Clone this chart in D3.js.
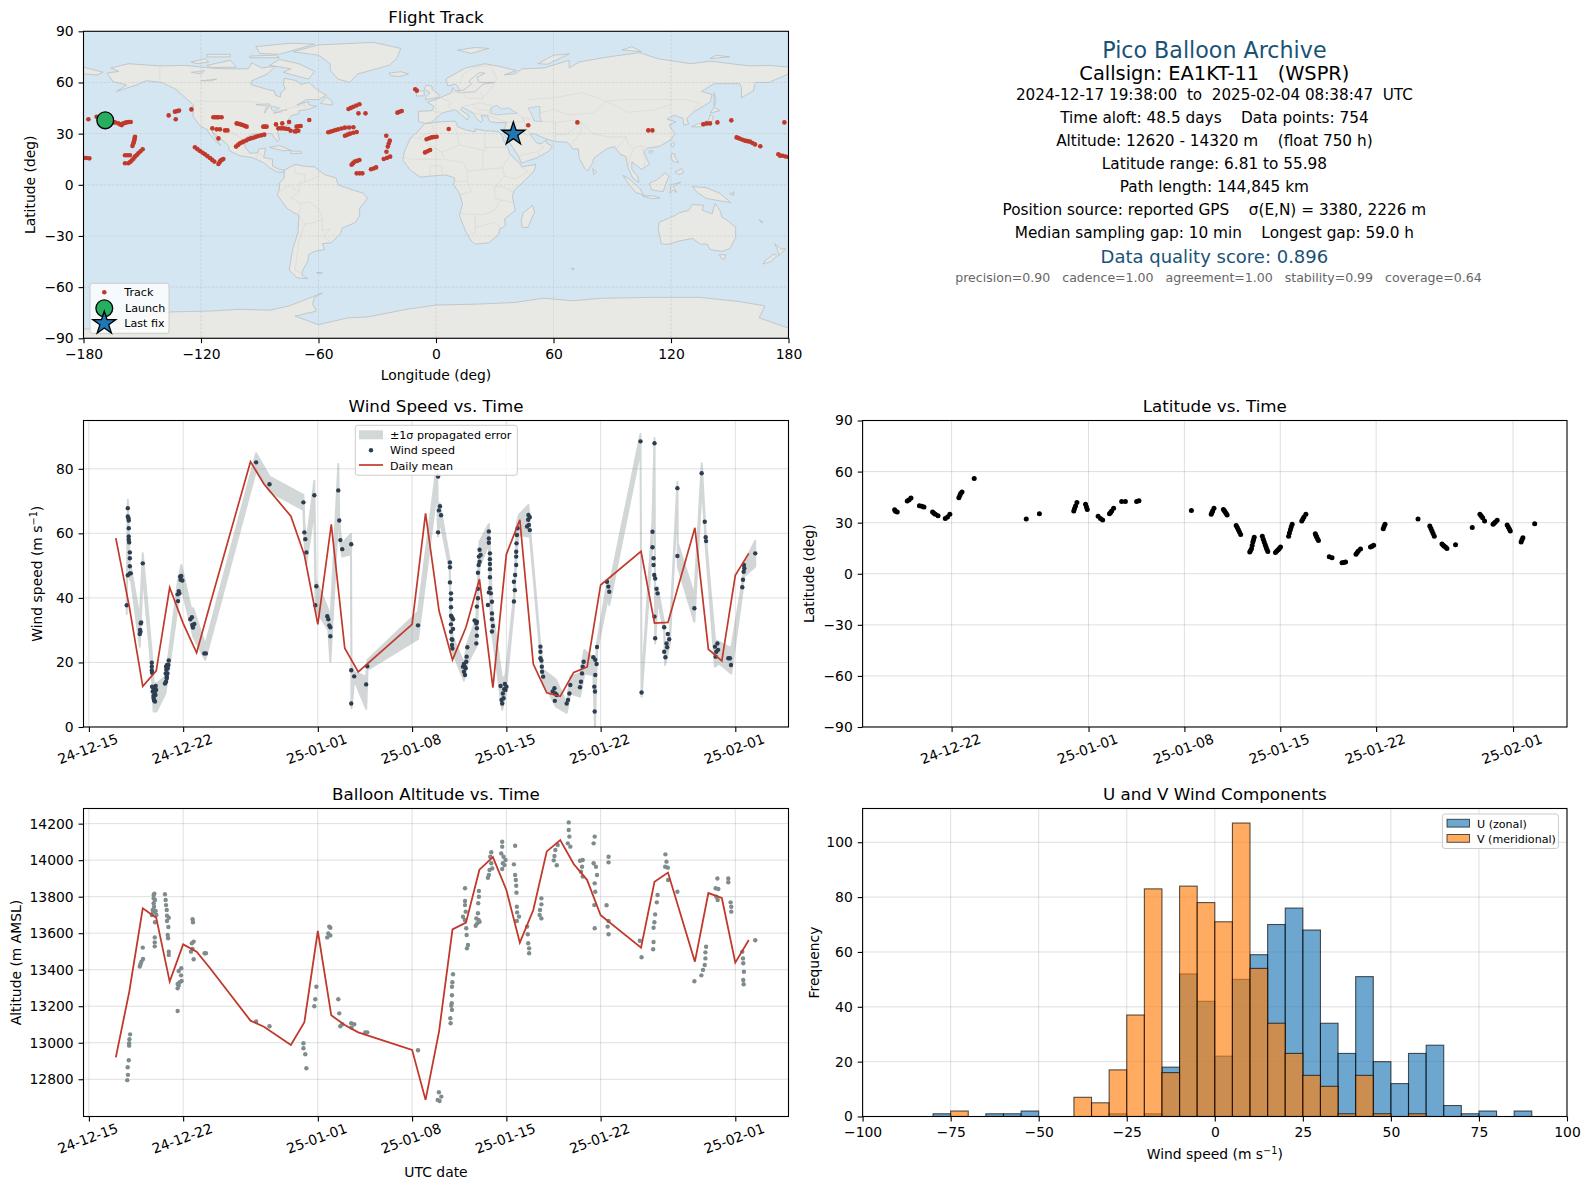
<!DOCTYPE html>
<html>
<head>
<meta charset="utf-8">
<script src="https://cdn.jsdelivr.net/npm/d3@7"></script>
<style>
  html, body { margin: 0; padding: 0; background: #fff; }
  svg { display: block; }
  text { font-family: "DejaVu Sans", sans-serif; fill: #000; }
</style>
</head>
<body>
<div id="chart-area"></div>
<script>
// all times are days since 2024-12-15 00:00 UTC

// ---- track, [lon, lat] ----
const trackPoints = [[-177.5,38.4],[-173.3,39.9],[-170.5,37.5],[-166.5,37],[-165,36.6],[-163.9,36.6],[-162.2,36],[-161.2,35.4],[-160.5,35],[-159.6,36],[-158.8,36.4],[-158,36.6],[-157,36.8],[-155.9,36.8],
  [-153.7,28.2],[-153.9,27.2],[-154,26.3],[-154.3,25.2],[-154.5,24.3],[-155,22.8],[-158.8,17.3],[-157.5,17.3],[-156.3,17.3],
  [-158.8,12.6],[-157.1,12.6],[-156.2,13.4],[-155.4,14.2],[-154.5,15.3],[-153.7,16.5],[-152.8,17.5],[-152,18.5],[-150.9,19.7],[-149.8,20.8],
  [-180,15.9],[-178.6,15.7],[-177,15.5],[-136.5,40.7],[-133.3,42.9],[-132.2,43.2],[-131.2,43.5],[-132.9,38.4],[-124.9,44.2],
  [-113.7,39.6],[-112.6,39.6],[-111.8,39.6],[-111,39.6],[-109.5,39.6],[-114.2,33.1],[-112,32.5],[-110.3,32.5],[-107.7,31.9],[-106.5,31.9],[-111.1,27.2],
  [-123.1,22],[-121.8,20.9],[-120.5,19.8],[-119.2,18.8],[-118,17.9],[-116.7,16.8],[-115.4,15.7],[-114.3,14.6],[-113.2,13.6],[-111.1,12.2],[-110.5,13.2],[-110,14.2],[-109.3,14.7],[-108.6,15.1],
  [-101.8,36],[-100.9,35.8],[-100.1,35.5],[-99.2,35.2],[-98.4,34.9],[-97.5,34.5],[-96.7,34.1],[-88.2,34.1],[-87.3,34.1],[-86.5,34.1],
  [-102.1,22.4],[-101.1,23.4],[-100.1,24.3],[-99.2,24.8],[-98.4,25.3],[-97,26],[-95.8,26.7],[-94.6,27.2],[-93.3,27.6],[-92,28.1],[-90.7,28.6],[-89.2,29],[-87.7,29.4],
  [-81.7,35.4],[-78.5,36],[-75,36.8],[-80.5,33.1],[-79.2,33.1],[-78,33.1],[-76.7,32.9],[-75.4,32.7],[-74.2,31.7],[-72,31.3],[-71.2,31.5],[-70.3,31.7],[-71.2,34.1],[-70.2,34.3],[-69.1,34.5],[-64.7,38],
  [-55,30.8],[-53.7,31.2],[-52.4,31.7],[-51.2,32.1],[-49.9,32.5],[-48.2,33],[-46.5,33.5],[-44.4,33.6],[-42.2,33.7],[-46.5,28.8],[-45.2,29.4],[-43.9,30],[-42.2,30.5],[-40.5,31],
  [-44.7,44.4],[-43.5,45.1],[-42.2,45.8],[-40.7,46.5],[-39.1,47.2],[-39.6,41.9],[-36,41.9],[-19.7,42.3],[-18.6,42.8],[-17.5,43.3],[-10.6,56],[-9.8,55.2],
  [-25.4,28.8],[-23.6,25.9],[-24.1,24.2],[-24.6,22.4],[-25.3,19.4],[-26.7,15.1],[-25,15.8],[-23.4,16.5],
  [-43.1,11.8],[-42.3,12.7],[-41.5,13.6],[-40.3,14],[-39.1,14.5],[-40.5,6.7],[-39,6.7],[-37.6,6.7],[-33.2,9.1],[-31.9,9.6],[-30.6,10.2],
  [-5.6,19],[-4.3,19.7],[-3,20.4],[-4.8,26.7],[-3.5,27.3],[-2.2,27.8],[-1,28],[0.3,28.2],[6.5,32.7],[47.1,34.9],
  [72.2,36.6],[108.4,31.9],[110.5,31.9],[136.5,35.5],[138.2,36],[139.9,36],[143.7,36.6],[150.8,37.8],
  [153.5,27.8],[154.4,27.4],[155.2,27],[156.5,26.4],[157.8,25.9],[159,25.6],[160.3,25.3],[161.6,24.5],[162.9,23.7],[165.6,22.6],
  [174.8,17.9],[175.7,17.1],[177,17],[178.5,16.6],[180,16.3],[177.9,36.6]]
const launchPoint = [-168.9, 37.8]
const lastFix = [39.5, 29.8]

// ---- wind speed panel: [day, m/s] ----
const windPoints = [[2.81,37.7],[2.89,67.8],[2.89,65.2],[2.94,64.7],[2.96,64],[2.96,61.6],[2.96,59],[2.96,58],[2.99,57.2],[3.04,54.1],[3.04,52.3],[3.04,49.8],[3.04,47.6],[2.89,47],[3.11,47.6],
  [3.78,28.8],[3.8,30.1],[3.83,29.5],[3.85,32.1],[3.88,32.4],[4,50.7],
  [4.67,19.9],[4.67,18.7],[4.67,17.5],[4.69,16.8],[4.69,12.5],[4.74,11],[4.79,9.6],[4.84,8.2],[4.91,7.9],[4.96,12.7],[4.99,11.5],[4.94,9.9],[4.86,12],[4.81,11.3],[4.77,12.3],[4.89,10.6],[4.81,8.9],
  [5.65,13.5],[5.73,14],[5.78,15.6],[5.7,16.6],[5.75,17.7],[5.73,18.7],[5.8,19.2],[5.85,18.2],[5.9,19.2],[5.93,20.6],[5.83,16.6],[5.78,15.1],
  [6.62,39],[6.59,41.1],[6.67,42.1],[6.72,41.4],[6.77,46.6],[6.86,46.8],[6.81,45.6],[6.94,45.4],
  [7.53,33.4],[7.65,34],[7.68,31.6],[7.83,31.9],[7.73,30.8],[8.57,22.8],[8.69,22.8],
  [12.42,82],[13.41,75.2],[15.93,69.6],[16,60.3],[16.07,58.2],[16.15,54.1],[16.74,71.8],[16.81,37.7],[16.89,43.6],
  [17.7,34.3],[17.78,33.4],[17.85,31.5],[17.93,30.9],[17.93,28.1],[18.52,73.3],[18.59,64],[18.67,57.9],[18.81,55.1],[19.48,56.6],[19.48,17.6],[19.48,7.3],[19.7,15.7],[20.67,18.8],[20.59,13.2],[24.44,31.5],
  [25.93,77.6],[25.93,60.3],[25.99,67.1],[26.07,68.4],[26.15,65.6],
  [26.81,51],[26.81,49.5],[26.81,44.8],[26.89,41.4],[26.89,39.6],[26.89,37.1],[26.89,34.5],[26.89,31.8],[26.96,34],[27.04,33.4],[27.04,30.4],[26.89,29.5],[26.94,27.2],[26.99,27],[26.96,25.4],[26.99,24.3],
  [27.78,18.7],[27.85,17.1],[27.93,16.1],[27.98,18.2],[28.02,20.2],[28.05,21.8],[28.1,24.7],[27.91,18.7],[27.85,19.5],
  [28.64,33],[28.77,32.1],[28.81,32.6],[28.81,30.6],[28.81,28.3],[28.77,25.9],[28.89,42.8],[28.81,37.3],[28.89,39.9],
  [28.89,47.8],[28.94,50.2],[28.96,52.8],[29.01,54.9],[29.09,53.3],[29.01,51.2],
  [29.7,60.6],[29.7,58.4],[29.7,57.1],[29.78,53.8],[29.78,52],[29.78,50.5],[29.78,48.9],[29.78,46.4],[29.78,43],[29.63,37.8],[29.7,41.7],[29.85,41.4],[29.93,38.8],[29.93,35.2],[29.93,33.4],[30,31.3],[29.93,29.6],
  [30.57,12.7],[30.74,10.4],[30.69,7.3],[30.79,8.9],[30.89,13.3],[31.01,12.5],[30.84,11.7],[30.94,11.5],[30.64,8.4],
  [31.56,38.9],[31.63,42.4],[31.56,45],[31.65,47.1],[31.73,50.2],[31.73,52.8],[31.73,54.3],[31.75,56.9],[31.78,59.5],[31.83,61.6],
  [32.54,62.1],[32.64,65.7],[32.62,64.2],[32.74,65],[32.67,62.6],[32.74,61],
  [33.53,24.9],[33.53,23.3],[33.6,20.6],[33.63,18.7],[33.65,17.1],[33.73,15.6],[33.53,21.3],
  [34.57,12],[34.64,10.4],[34.6,8.1],[34.74,9.9],[34.44,11],[35.48,7.3],[35.58,8.4],[35.68,10.4],[35.75,13],
  [36.47,12.3],[36.54,14],[36.62,16.6],[36.74,20.2],[36.67,18.7],[37.46,21.6],[37.6,20.8],[37.7,19.5],[37.6,16.1],[37.53,12.5],[37.58,11],[37.56,4.8],[37.73,24.8],
  [38.47,45],[38.57,43.5],[38.64,41.9],[40.96,88.5],[41.04,10.7],[41.85,60.5],[41.85,55.7],[41.93,52.3],[41.93,50.2],[41.98,47.1],[42.05,46],[42,87.9],[42,34.2],[42.05,27.5],[42.15,42.8],[42.23,41.4],
  [42.72,30.9],[42.72,23.3],[42.81,21.6],[42.89,25.9],[42.99,28.8],[43.09,27.2],[42.94,24.7],[43.7,74],[43.7,53],[44.96,36.8],[45.5,78.6],[45.73,63.6],[45.8,58.8],[45.83,57.6],
  [46.49,24.9],[46.59,23.3],[46.67,25.9],[46.54,21.8],[46.72,23.9],[47.48,21.3],[47.6,21.3],[47.68,19.2],[48.52,43.3],[48.57,45.6],[48.64,50.2],[48.62,48.1],[48.67,49.2],[49.48,53.8]]

const bandDays  = [2.81,2.89,3.04,3.11,3.78,4,4.67,4.81,5.01,5.68,5.95,6.59,6.86,7.58,7.75,8.64,12.42,13.41,15.93,16,16.15,16.74,16.84,17.78,17.93,18.52,18.59,18.67,18.81,19.46,19.5,19.7,20.59,20.69,24.44,25.85,25.93,26.05,26.79,26.86,27.01,27.85,28.1,28.77,29.01,29.7,29.8,29.95,30.69,30.94,31.56,31.78,31.93,32.64,32.74,33.51,33.73,34.57,34.69,35.48,35.75,36.47,36.79,37.46,37.58,37.73,38.52,38.64,40.96,41.04,41.85,42,42.05,42.23,42.72,42.79,43.14,43.7,43.73,44.96,45.51,45.73,45.81,46.49,46.79,47.7,48.52,48.64,49.48]
const bandUpper = [40.4,70.4,50.2,49.7,33.7,53.8,22.8,13.5,13.5,15.6,23.3,44.5,50.2,36.8,36.8,25.4,84.8,77.6,71.9,63.1,56.9,76.3,45.6,36.3,32.1,81.5,65.2,60,56.9,59.8,19.2,17.1,15.6,20.8,35.7,81.7,62.1,69.3,51.8,36.3,28,19.7,25.9,33.7,57.4,62.9,53.8,36.3,14.6,16.1,40.4,63.1,65.7,68.8,62.6,25.9,17.7,15.1,14.6,7.3,15.6,16.6,23.9,21.3,15.6,25.9,45.6,43.5,90.8,12.5,64.2,89.5,29,43.5,32.1,22.3,29,76,56.9,40.9,81.7,64.7,59,27,26.4,24.4,45,50.7,57.7]
const bandLower = [35,65.2,45.6,46.1,24.9,47.6,16.6,4.8,4.8,10.4,17.7,37.3,43.5,31.1,28,20.8,79.6,72.9,67.3,58,50.7,67.3,36.3,30.1,20.2,65.2,62.1,56.9,52.8,53.5,5.8,14.6,5.6,17.7,27.3,73.5,59,64.2,48.7,31.1,23.3,14.4,19.7,24.9,49.7,56.9,37.3,29,5.3,10.4,36.8,54.9,59.5,59,59.5,22.8,14,7.3,6.3,4.4,10.4,9.4,16.6,16.1,0.1,23.3,39.9,37.8,85.8,9.4,56.9,85.8,25.9,39.4,29.5,19.2,25.9,71.4,49.7,32.6,75,62.1,55.4,18.7,19.7,16.6,41.4,46.6,49.7]

const meanDays = [2,3,4,5,6,7,8,9,12,13,15,16,17,18,19,20,24,25,26,27,28,29,30,31,32,33,34,35,36,37,38,41,42,43,45,46,47,48,49]
const meanWind = [58.5,37.3,12.6,17.4,43.2,32.1,23,38,82.2,75.3,65.3,53.3,31.8,62.8,24.4,17.1,31.8,66.2,36,20.8,30.9,45.8,12.2,53.5,64.2,19.5,10.6,9.5,16.9,18.6,44,54.4,32.2,32.4,61.7,24.1,20.5,47,53.8]
const meanAlt  = [12920,13280,13736,13685,13335,13539,13499,13408,13121,13088,12988,13112,13612,13150,13097,13057,12961,12687,13061,13621,13658,13948,14017,13837,13548,13727,14048,14110,13979,13891,13698,13521,13882,13932,13444,13820,13793,13439,13563]

// ---- latitude panel: [day, deg] ----
const latPoints = [[2.84,37.6],[2.9,36.7],[3.03,36.3],[3.76,42.7],[3.9,43.5],[4.03,44.5],[4.65,40],[4.82,39.6],[4.98,39.2],[5.61,36.3],[5.71,35.6],[5.81,34.9],[6.01,34.1],[6.54,32.4],[6.7,33.3],[6.87,34.9],
  [7.53,44.7],[7.6,46],[7.66,47.1],[7.76,48],[8.65,55.9],[12.45,32.2],[13.41,35.3],
  [15.92,36.9],[15.98,38.3],[16.05,39.8],[16.15,41.8],[16.78,40.8],[16.85,39.2],[16.91,37.8],[17.7,33.7],[17.87,32.4],[18.03,31.6],[18.53,35.3],[18.61,36],[18.69,36.9],[18.83,38.4],[19.42,42.4],[19.69,42.4],[20.51,42.4],[20.68,42.9],[24.51,37.1],
  [25.96,34.9],[26.01,35.9],[26.06,36.9],[26.16,38.4],[26.85,37.8],[26.92,37],[26.98,36.3],[27.05,35.4],[27.12,34.5],[27.78,28.4],[27.86,27.1],[27.94,25.9],[28.02,24.5],[28.11,23.1],
  [28.77,12.7],[28.83,13.7],[28.9,14.7],[28.95,16.6],[29,18.6],[29.05,20],[29.1,21.4],[29.69,22],[29.76,20.3],[29.83,18.6],[29.9,17.1],[29.96,15.7],[30.02,14.4],[30.09,13.1],[30.65,12.5],[30.75,13.3],[30.85,14.1],[30.93,14.9],[31.02,15.7],
  [31.61,22],[31.67,24],[31.74,25.9],[31.8,27.4],[31.87,29],[32.57,31],[32.65,32.1],[32.73,33.3],[32.87,34.9],[33.56,23.5],[33.61,22.5],[33.66,21.6],[33.72,20.6],[33.79,19.6],
  [34.58,10],[34.78,9.4],[35.51,6.5],[35.64,6.6],[35.77,6.9],[36.53,11.4],[36.61,12.3],[36.7,13.3],[36.86,14.5],[37.59,15.7],[37.7,16.2],[37.82,16.7],[38.52,26.5],[38.58,27.8],[38.65,29],[41.06,32.2],
  [41.92,28],[42,26.6],[42.08,25.1],[42.16,23.6],[42.25,22],[42.81,17.5],[42.9,16.8],[42.98,16.1],[43.08,15.5],[43.17,14.9],[43.8,17.1],[45.02,27.1],[45.58,34.9],[45.68,33.9],[45.78,32.9],[45.92,31],
  [46.54,29],[46.62,29.7],[46.71,30.4],[46.84,31.4],[47.57,28.6],[47.65,27.5],[47.73,26.3],[47.8,25.1],[48.59,18.6],[48.65,19.9],[48.72,21.2],[49.58,29.4]]

// ---- altitude panel: [day, m] ----
const altPoints = [[2.85,12795],[2.9,12824],[2.88,12866],[2.96,12904],[2.99,12984],[2.99,12997],[3.01,13019],[3.06,13046],
  [3.78,13417],[3.83,13430],[3.9,13444],[4.02,13459],[4,13521],
  [4.67,13700],[4.74,13727],[4.81,13809],[4.81,13791],[4.81,13764],[4.86,13817],[4.91,13782],[4.96,13722],[5.01,13700],[4.91,13660],[4.89,13577],[4.89,13550],[4.89,13528],[4.84,13745],[4.78,13715],
  [5.65,13813],[5.7,13782],[5.73,13754],[5.78,13727],[5.8,13696],[5.93,13685],[5.8,13667],[5.9,13634],[5.85,13590],[5.88,13572],[5.93,13499],[5.93,13481],
  [6.86,13408],[6.67,13393],[6.84,13369],[6.89,13338],[6.74,13331],[6.59,13322],[6.67,13313],[6.59,13298],[6.59,13174],
  [7.7,13676],[7.73,13660],[7.78,13554],[7.65,13545],[7.58,13499],[7.7,13514],[7.78,13457],[8.59,13490],[8.69,13490],
  [12.42,13116],[13.41,13090],[15.93,12997],[15.93,12970],[16.07,12937],[16.15,12860],[16.74,13200],[16.81,13238],[16.89,13307],
  [17.7,13577],[17.78,13599],[17.93,13588],[17.85,13636],[17.93,13630],[18.52,13238],[18.59,13161],[18.67,13090],[18.81,13101],[19.48,13107],[19.7,13101],[19.5,13083],[20.52,13057],[20.67,13057],[24.44,12959],
  [25.99,12729],[26.17,12705],[25.9,12687],[26.04,12681],
  [27.04,13375],[26.99,13331],[26.96,13307],[26.96,13260],[26.94,13216],[26.96,13180],[26.84,13134],[26.86,13107],[26.91,13203],
  [27.93,13846],[27.93,13776],[27.93,13754],[27.78,13690],[27.98,13718],[27.91,13672],[28.02,13627],[28.05,13590],[28.15,13535],[28.07,13517],
  [28.96,13831],[28.96,13800],[28.91,13764],[28.89,13709],[28.94,13672],[28.84,13654],[28.72,13641],[29.01,13663],[28.77,13681],
  [29.88,14043],[29.8,14019],[29.88,13983],[29.75,13946],[29.63,13904],[29.95,13955],[29.7,13919],
  [30.69,14101],[30.69,14074],[30.62,14037],[30.79,14019],[30.94,14001],[30.74,13983],[30.86,13973],[30.69,13952],
  [31.65,14079],[31.56,13977],[31.65,13919],[31.7,13891],[31.73,13860],[31.75,13822],[31.78,13745],[31.8,13714],[31.94,13691],[31.78,13667],
  [32.54,13636],[32.59,13594],[32.62,13545],[32.69,13517],[32.69,13490],[33.6,13791],[33.6,13758],[33.5,13727],[33.47,13700],[33.6,13681],
  [34.81,14083],[34.64,14056],[34.57,14023],[34.52,13999],[34.74,13972],[35.63,14207],[35.63,14165],[35.68,14129],[35.56,14092],[35.75,14074],
  [36.47,13997],[36.67,14001],[36.62,13964],[36.54,13937],[36.67,13910],[37.56,14129],[37.48,14092],[37.48,13983],[37.65,13964],[37.73,13919],[37.56,13873],[37.6,13827],[37.53,13754],[37.56,13627],
  [38.59,14019],[38.59,13988],[38.44,13753],[38.59,13667],[38.52,13636],[38.59,13594],[40.91,13559],[41.04,13468],[41.93,13552],[41.9,13512],[41.99,13660],[41.93,13630],[42.05,13703],[42.17,13769],[42.23,13809],
  [42.81,14032],[42.89,13992],[42.79,13964],[42.99,13959],[43.01,13891],[43.7,13827],[44.96,13337],[45.48,13369],[45.6,13399],[45.73,13426],[45.78,13462],[45.78,13495],[45.83,13526],
  [46.67,13900],[46.54,13846],[46.74,13842],[46.59,13800],[46.69,13782],[47.48,13900],[47.48,13879],[47.65,13769],[47.7,13745],[47.7,13718],
  [48.52,13499],[48.57,13462],[48.59,13435],[48.64,13389],[48.59,13344],[48.62,13320],[49.48,13561]]

// ---- histogram ----
const binStarts = [-80,-75,-70,-65,-60,-55,-50,-45,-40,-35,-30,-25,-20,-15,-10,-5,0,5,10,15,20,25,30,35,40,45,50,55,60,65,70,75,80,85]
const uCounts =   [1,0,0,1,1,2,0,0,0,0,1,0,1,18,52,42,22,50,59,70,76,68,34,23,51,20,12,23,26,4,1,2,0,2]
const vCounts =   [0,2,0,0,0,0,0,0,7,5,17,37,83,16,84,78,71,107,54,34,23,15,11,1,15,1,0,1,0,0,0,0,0,0]

// ---- tick labels ----
const dateTicks = ["2024-12-15","2024-12-22","2025-01-01","2025-01-08","2025-01-15","2025-01-22","2025-02-01"]
const lonTicks = [-180,-120,-60,0,60,120,180]
const latTicks = [-90,-60,-30,0,30,60,90]
const windTicks = [0,20,40,60,80]
const altTicks = [12800,13000,13200,13400,13600,13800,14000,14200]
const histXTicks = [-100,-75,-50,-25,0,25,50,75,100]
const histYTicks = [0,20,40,60,80,100]

// ---- summary text ----
const summaryLines = [
  ["Pico Balloon Archive", 58.3, 22.2, "#1a5276", 1214.4],
  ["Callsign: EA1KT-11   (WSPR)", 80, 19.4, "#000", 1214.4],
  ["2024-12-17 19:38:00  to  2025-02-04 08:38:47  UTC", 100, 15.2, "#000", 1214.4],
  ["Time aloft: 48.5 days    Data points: 754", 123.3, 15.3, "#000", 1214.4],
  ["Altitude: 12620 - 14320 m    (float 750 h)", 146, 15.3, "#000", 1214.4],
  ["Latitude range: 6.81 to 55.98", 169, 15.3, "#000", 1214.4],
  ["Path length: 144,845 km", 192, 15.3, "#000", 1214.4],
  ["Position source: reported GPS    σ(E,N) = 3380, 2226 m", 215, 15.3, "#000", 1214.4],
  ["Median sampling gap: 10 min    Longest gap: 59.0 h", 238, 15.3, "#000", 1214.4],
  ["Data quality score: 0.896", 263.3, 18, "#1a5276", 1214.4],
  ["precision=0.90   cadence=1.00   agreement=1.00   stability=0.99   coverage=0.64", 282.3, 12.55, "#666", 1218.5]
]

// ---- base map, [lon, lat] rings ----
const landRings = [
  // north america
  [[-168,65.5],[-162,66.5],[-166,68.5],[-157,71],[-141,69.7],[-128,70],[-115,68.5],[-108,68],[-96,68],[-94,71.5],[-89,68.5],[-82,69.5],[-85,66],[-87,64.5],[-94,61],[-94.5,58.8],[-88,56.5],[-82.5,55],[-82,52.5],[-79.5,51.5],[-79,54.5],[-77,56],[-78,59],[-77.5,62.5],[-71,61],[-69,58.8],[-65,60],[-61,56],[-56,52.5],[-60,50],[-66,50],[-71,46.8],[-65,48.8],[-65,47],[-61,46],[-66,44],[-70,43.5],[-70,41.7],[-74,40.5],[-76,37],[-75.5,35.3],[-81,31.8],[-80,26.8],[-81,25.2],[-82.8,28],[-84,30],[-89,30.2],[-94,29.5],[-97.3,27.5],[-97.7,22.5],[-95,18.5],[-91,18.7],[-90.5,21],[-87,21.5],[-88,16],[-83.5,15],[-83.5,11],[-80,9],[-77.5,8.7],[-78,7.3],[-81,7.5],[-85,10],[-88,13],[-94,16],[-100,17],[-105.5,20],[-106,23],[-112,29],[-114.5,31.5],[-112,26.5],[-110,23],[-112,25],[-115,29],[-117.3,32.7],[-120.5,34.5],[-124,40],[-124,47],[-128,51],[-133,56],[-140,60],[-148,61],[-153,58.5],[-163,54.8],[-158,58.5],[-165,60.5]],
  // south america
  [[-77.5,8.5],[-72,12],[-68,11],[-62,10.5],[-57,6],[-51,4],[-50,0],[-44,-2.5],[-37,-5],[-35,-8],[-39,-14],[-39,-18],[-41,-22],[-48,-25.5],[-48.7,-28.5],[-53.5,-34],[-58,-34.5],[-57,-38],[-62,-39],[-65,-41],[-65.5,-45],[-68,-50],[-68.5,-53],[-65.5,-55],[-71,-54.5],[-75,-50],[-74,-43],[-73,-37],[-70.5,-28],[-70,-18],[-76,-14],[-81,-6],[-80,-2.5],[-80,1],[-77.5,4]],
  // africa
  [[-5.8,35.8],[3,37],[10,37.3],[11,34],[15,32.3],[20,31],[20,32.8],[25,31.7],[32,31.2],[34.3,28],[34,27],[37,21],[37.5,18.5],[43,12],[44,10.5],[51,12],[50,8],[45,2],[40,-3],[39,-7],[40.5,-15],[35,-20],[35.5,-24],[32.5,-26],[32,-29],[27,-34],[20,-34.8],[18,-33],[15,-27],[12,-18],[13.5,-11],[12,-5],[9,0],[9.5,4],[5,5.8],[-4,5],[-8,4.5],[-13,8.5],[-17,14.5],[-16,20],[-13,27.5],[-9.5,31]],
  // eurasia
  [[-9,37],[-5.5,36],[-2,36.8],[0,39],[3,42],[6,43],[10,44],[12.5,41.5],[16,38],[17,40.5],[12.5,44],[13.5,45.5],[19,42],[20.5,39],[23,36.7],[24,38],[23,40.5],[26.5,40.5],[26.5,39.5],[27.5,37],[30.5,36.5],[36,36.5],[34.5,31.5],[34.9,29.5],[38,24],[42.5,16],[43.5,12.7],[52,16],[58,20],[59.5,22.5],[56.5,24.5],[56.3,26.3],[54,24.2],[51.5,24.5],[50,26.5],[48,29.7],[50,30],[56,27],[61,25.3],[67,25],[70,21],[72.7,21],[73,16],[76,9.5],[77.5,8],[80,13],[80.5,15.5],[87,21],[91,22.5],[94,18],[97,16.5],[98,10],[100.5,4],[103.5,1.3],[103,5],[100,9],[100,13.5],[105,9],[109,12],[107,17],[106,19.5],[108,21.5],[114,22.5],[120,26.5],[122,30],[119,35],[122.5,37],[118,38.5],[121.5,40.8],[126,39],[126.5,35],[129,35.5],[128,39],[132,43],[140,48.5],[141,53],[135.5,54.7],[142,59.3],[155,59.3],[156,57],[156,51],[162,55],[163,60],[170,60],[180,65],[180,69],[170,70],[160,69.7],[140,72.5],[130,71],[113,74],[104,77.5],[88,75],[73,72],[68,68.5],[68,73],[55,68.5],[44,68],[40,65],[35,64.5],[41,67],[32,69.5],[25,71],[15,68.5],[5,62],[6,58],[10,59],[12,56],[11,54],[20,54.5],[24,59],[30,60],[22,60],[21,63],[25,65.5],[22,65.7],[17,61],[18,59],[14,55.5],[10,55],[8.5,57],[8,54],[3,51.5],[-1.5,49.5],[-4.5,48.5],[-1,46],[-2,43.5],[-9,43]],
  // far east tip past the date line
  [[-180,65],[-173,64.3],[-170,66],[-175,67.5],[-180,69]],
  // greenland and arctic
  [[-73,78],[-60,82],[-32,83.5],[-18,80],[-20,74],[-24,70],[-40,65],[-44,60],[-50,62],[-54,67],[-54,71],[-60,76]],
  [[-80,73.5],[-70,71],[-62,66.5],[-65,62],[-72,64],[-78,66],[-74,68],[-85,70]],
  [[-117,70],[-105,73],[-102,69],[-115,68.8]],
  [[-125,72],[-118,74],[-116,72],[-122,71]],
  [[-90,77],[-80,76.5],[-62,82.5],[-75,83],[-92,81]],
  [[-95,74.5],[-80,74.5],[-82,76],[-95,75.5]],
  [[-117,75],[-105,75],[-105,76.5],[-117,76.5]],
  [[-59,47.7],[-53,46.7],[-53,49],[-56,51.5]],
  [[-24,65.5],[-18,66.3],[-14,65],[-19,63.4],[-23,64]],
  [[-5.5,50],[1.5,51.2],[1.5,53],[-2,56],[-2,57.7],[-5,58.5],[-6,56],[-3,54],[-5,52]],
  [[-10,52],[-6,52.2],[-6,55],[-8.5,55],[-10,54]],
  [[11,79],[20,80.5],[27,80],[18,77]],
  [[52,71],[57,70.7],[68,76.7],[60,76]],
  [[95,79],[105,78],[100,81]],
  [[140,74],[150,75],[143,76]],
  // caribbean
  [[-85,22],[-80,23],[-74,20.2],[-78,19.9]],
  [[-74,19.8],[-69,19.7],[-68.5,18.5],[-74,18.2]],
  // asia and pacific islands
  [[130.5,34],[135,34],[140,35],[141.7,40],[140,41],[139,37.5],[133,35.5]],
  [[140,42],[145,43.5],[142,45.5]],
  [[142,54],[143,49],[142,46]],
  [[80,9.5],[82,7.5],[80.5,6]],
  [[121,25],[122,24],[120.8,22],[120,23.5]],
  [[109,20],[111,19.8],[110,18.3],[108.7,19]],
  [[120.5,18.5],[122,18],[122,16],[124,13],[121,13.7],[120,16]],
  [[122,7.5],[125.5,9.5],[126.5,7],[124,6]],
  [[109,1],[113,3],[117,7],[119,5],[117.5,1],[116,-4],[110,-3]],
  [[95.5,5.5],[98,4],[104,-2],[106,-6],[102,-4.5],[98,1]],
  [[105.5,-6.5],[111,-6.5],[114.5,-7.7],[110,-8.2]],
  [[119.5,-5],[120,0],[125,1.5],[121,-1],[123,-4.5],[121,-3]],
  [[131,-1],[138,-1.7],[145,-5],[150.5,-10.5],[143,-9],[138,-8],[133,-4]],
  [[150,-5.5],[152,-4],[152,-6]],
  [[114,-22],[113.5,-26],[115,-34.5],[118,-35],[124,-33],[131,-31.5],[135,-34.8],[138.5,-34.8],[140,-38],[146,-39],[150,-37.5],[153,-31],[153,-25],[149,-21],[146,-19],[145,-15],[142.5,-11],[141,-17],[136,-15],[136.5,-12],[131,-11.5],[129,-15],[124,-16.5],[122,-18]],
  [[144.7,-41],[148,-41],[147.5,-43.5],[146,-43.5]],
  [[173,-34.5],[176,-37.5],[178.5,-37.7],[175,-41.5],[174.5,-38.5]],
  [[172.7,-40.5],[174,-41.8],[171,-45],[167,-46.5],[168,-44.5]],
  [[165,-20.5],[167,-22],[166,-22]],
  [[69,-49],[70.5,-49],[70,-50]],
  [[-61,-51.5],[-58,-51.5],[-59,-52.3]],
  [[49.3,-12],[50.3,-16],[47,-25],[44,-25],[43.5,-21],[44.5,-16.5]],
  // antarctica
  [[-180,-90],[-180,-84.5],[-155,-84.5],[-150,-77],[-135,-74.5],[-115,-74],[-100,-73],[-85,-73.5],[-75,-71],[-68,-68],[-58,-63.3],[-62,-66],[-63,-70],[-61,-74],[-72,-77],[-60,-82],[-45,-78],[-35,-77.5],[-15,-73],[0,-70.5],[20,-70],[40,-69],[55,-66.5],[70,-68],[85,-66.5],[110,-66],[135,-66],[155,-68.5],[168,-71],[165,-78],[180,-84],[180,-90]]
]
const waterRings = [
  [[28,42],[28,45],[31,46.5],[33.5,44.5],[37,45],[41.5,42],[36,41.5],[31,41]],
  [[47,45],[53,46],[53,40],[54,37],[50,37.5],[49,41]],
  [[-92,47],[-85,47.5],[-84.5,46],[-88,46.5]],
  [[-87.5,42],[-85.5,45.5],[-87,45]],
  [[-84,46],[-80,45],[-82,43],[-84,44]],
  [[-83,42],[-78.8,42.8],[-79,43.5],[-76,44],[-79.5,43.2]],
  [[-120,61],[-112,62],[-115,61]],
  [[-125,66],[-118,67],[-120,65]]
]
const borderLines = [
  [[-123,49],[-95,49],[-83,46],[-79,43],[-75,45],[-67,47],[-67,45]],[[-141,69.7],[-141,60],[-130,55]],[[-117,32.5],[-106,31.7],[-97.3,26]],[[-92,14.5],[-91,17.8],[-88.5,18]],
  [[-70,-18],[-69,-11],[-74,-7.5],[-70,-4],[-70,1],[-67,1.5],[-60,5],[-60,8.5]],[[-80,-3.5],[-75,-0.5],[-70,-4]],[[-72,12],[-72,7],[-67,6],[-67,1.5]],[[-58,-20],[-58,-27],[-54,-26],[-57.5,-30],[-53.5,-34]],[[-69,-11],[-65,-10],[-60,-14],[-58,-20],[-62,-22],[-67,-23],[-70,-18]],[[-67,-23],[-70,-33],[-72,-50],[-68.5,-52]],
  [[-13,27.5],[-8.7,27.5],[-1,32],[-2,35]],[[-8.7,27.5],[3,19],[12,23.5],[10,33]],[[12,23.5],[25,20],[25,31.7]],[[25,22],[37,22]],[[3,19],[4,15],[14,13],[16,8],[24,9],[24,20]],[[24,9],[34,10],[36,14.5],[38.5,18]],[[34,10],[35,5],[41,3.5],[47,8],[43,11]],[[35,5],[30,-1],[34,-1],[39.5,-4.5]],[[30,-1],[30,-8],[39.5,-10.5]],[[16,8],[16,2],[9.5,2]],[[16,2],[18,-4],[12,-6]],[[13,-17],[24,-17.5],[30,-15],[33,-9]],[[20,-18],[20,-28],[17,-29]],[[20,-25],[30,-22],[33,-25]],[[-12,15],[-4,15],[3,15]],[[-3,5],[-3,11],[3,11],[3,6.5]],[[-17,16],[-12,15]],
  [[28,70],[31,62],[28,56],[24,51]],[[47.5,50],[60,51],[75,54],[87,49],[98,50],[108,50],[117,50],[127,50],[135,48],[131,43]],[[87,49],[98,42.5],[112,44],[120,47]],[[74,37],[80,30],[88,28],[97,28],[98,24],[101,21.5],[105,23],[108,21.5]],[[52,42],[60,44],[68,41],[80,42],[87,49]],[[44.5,39.5],[46,33],[48.5,30]],[[44.5,39.5],[48,38]],[[54,37.5],[61,36.5],[61,31],[61,25]],[[61,36.5],[71,38],[74,37],[71,33],[66,29.5],[61,29.5]],[[74,37],[74,31],[70,25],[68.5,23.5]],[[34.9,29.5],[42,32],[47,29]],[[42,17],[52,19.5],[55,22],[51.5,24.5]],[[52,19.5],[53,16.5]],[[26,41],[36,36.8],[44.5,37],[44,39.5],[41.5,41.5]],[[-1.5,43.3],[3,42.5]],[[8,44],[6,46],[8,48],[6,49.5],[2.5,51]],[[8,54.5],[14,54],[15,51],[24,50.5],[23,54]],[[13.5,46],[23,48],[30,46]],[[19,42],[23,41.5],[26,41],[28,43.5],[22,44],[19,46]],[[12,59],[14,65],[20,69],[28,70]],[[92,21],[97,28]],[[98,10],[99,16],[101,21.5]],[[105,23],[107,15],[106,10]]
]

// colours
const RED = "#c0392b", NAVY = "#2c3e50", SLATE = "#7f8c8d"
const GRID = "#b0b0b0"

const svg = d3.select("#chart-area").append("svg")
    .attr("width", 1590)
    .attr("height", 1189)

const dayDate = d => new Date(Date.UTC(2024, 11, 15) + d * 864e5)
const parseDay = d3.utcParse("%Y-%m-%d")
const formatDay = d3.utcFormat("%y-%m-%d")

// one axes box: returns a group clipped to the frame plus layers for the frame
function makeAxes(name, box) {
    const outer = svg.append("g").attr("class", name)
    outer.append("clipPath").attr("id", "clip-" + name)
        .append("rect").attr("x", box.left).attr("y", box.top)
        .attr("width", box.right - box.left).attr("height", box.bottom - box.top)
    const plot = outer.append("g").attr("clip-path", `url(#clip-${name})`)
    return { outer, plot }
}

function drawGrid(plot, box, x, y, xTicks, yTicks, opts = {}) {
    const g = plot.append("g").attr("class", "grid")
        .attr("stroke", GRID).attr("stroke-width", opts.width || 1)
        .attr("stroke-opacity", opts.opacity || 0.4)
        .attr("stroke-dasharray", opts.dash || null)
    g.selectAll(".gx").data(xTicks).join("line")
        .attr("x1", d => x(d)).attr("x2", d => x(d))
        .attr("y1", box.top).attr("y2", box.bottom)
    g.selectAll(".gy").data(yTicks).join("line")
        .attr("x1", box.left).attr("x2", box.right)
        .attr("y1", d => y(d)).attr("y2", d => y(d))
}

function styleAxis(g) {
    g.selectAll("text").attr("font-size", 13.9).attr("font-family", "DejaVu Sans").attr("fill", "#000")
    g.selectAll("line").attr("stroke", "#000").attr("stroke-width", 1.1)
    g.select(".domain").remove()
}

function drawFrame(outer, box) {
    outer.append("rect").attr("x", box.left).attr("y", box.top)
        .attr("width", box.right - box.left).attr("height", box.bottom - box.top)
        .attr("fill", "none").attr("stroke", "#000").attr("stroke-width", 1.1)
}

function drawBottomAxis(outer, box, x, ticks, fmt) {
    const g = outer.append("g").attr("transform", `translate(0, ${box.bottom})`)
        .call(d3.axisBottom(x).tickValues(ticks).tickFormat(fmt).tickSize(4.9).tickPadding(5.8))
    styleAxis(g)
    return g
}

function drawDateAxis(outer, box, x, ticks) {
    const g = drawBottomAxis(outer, box, x, ticks, formatDay)
    g.selectAll("text")
        .attr("y", 0).attr("dy", "0.35em")
        .attr("transform", "translate(-1.5, 22) rotate(-20)")
}

function drawLeftAxis(outer, box, y, ticks) {
    const g = outer.append("g").attr("transform", `translate(${box.left}, 0)`)
        .call(d3.axisLeft(y).tickValues(ticks).tickFormat(d => String(d).replace("-", "\u2212")).tickSize(4.9).tickPadding(4.9))
    styleAxis(g)
}

function addTitle(box, label) {
    svg.append("text").attr("x", (box.left + box.right) / 2).attr("y", box.top - 8.5)
        .attr("text-anchor", "middle").attr("font-size", 16.7).text(label)
}

function addXLabel(box, yPos, label) {
    return svg.append("text").attr("x", (box.left + box.right) / 2).attr("y", yPos)
        .attr("text-anchor", "middle").attr("font-size", 13.9).text(label)
}

function addYLabel(xPos, box, label) {
    const cy = (box.top + box.bottom) / 2
    return svg.append("text").attr("transform", `translate(${xPos}, ${cy}) rotate(-90)`)
        .attr("text-anchor", "middle").attr("font-size", 13.9).text(label)
}

function addInverseUnit(t, prefix) {
    t.text(prefix + " (m s")
    t.append("tspan").attr("font-size", 9.7).attr("dy", -5).text("\u22121")
    t.append("tspan").attr("dy", 5).text(")")
}

function legendBox(x, y, w, h) {
    svg.append("rect").attr("x", x).attr("y", y).attr("width", w).attr("height", h).attr("rx", 2.5)
        .attr("fill", "#fff").attr("fill-opacity", 0.8).attr("stroke", "#ccc").attr("stroke-width", 1)
}

function legendText(x, y, label) {
    svg.append("text").attr("x", x).attr("y", y).attr("dy", "0.35em").attr("font-size", 11.1)
        .attr("fill", "#000").text(label)
}

// ---- flight track map ----
const mapBox = { left: 83.5, right: 788.5, top: 31.3, bottom: 338.3 }
const lonScale = d3.scaleLinear().domain([-180, 180]).range([mapBox.left, mapBox.right])
const latScaleMap = d3.scaleLinear().domain([-90, 90]).range([mapBox.bottom, mapBox.top])
const mapAxes = makeAxes("map", mapBox)
const ring = d3.line().x(d => lonScale(d[0])).y(d => latScaleMap(d[1]))

mapAxes.plot.append("rect").attr("x", mapBox.left).attr("y", mapBox.top)
    .attr("width", mapBox.right - mapBox.left).attr("height", mapBox.bottom - mapBox.top)
    .attr("fill", "#d4e6f1")
mapAxes.plot.append("g").selectAll("path").data(landRings).join("path")
    .attr("d", d => ring(d) + "Z")
    .attr("fill", "#e8e8e4").attr("stroke", "#b3babf").attr("stroke-width", 0.7)
mapAxes.plot.append("g").selectAll("path").data(waterRings).join("path")
    .attr("d", d => ring(d) + "Z")
    .attr("fill", "#d4e6f1").attr("stroke", "#b3babf").attr("stroke-width", 0.6)
mapAxes.plot.append("g").selectAll("path").data(borderLines).join("path")
    .attr("d", ring).attr("fill", "none").attr("stroke", "#d6d6d2").attr("stroke-width", 0.6)
drawGrid(mapAxes.plot, mapBox, lonScale, latScaleMap, lonTicks, latTicks, { dash: "2.5,1.5", width: 0.7, opacity: 0.45 })
mapAxes.plot.append("g").selectAll("circle").data(trackPoints).join("circle")
    .attr("cx", d => lonScale(d[0])).attr("cy", d => latScaleMap(d[1])).attr("r", 2.3).attr("fill", RED)
mapAxes.plot.append("circle")
    .attr("cx", lonScale(launchPoint[0])).attr("cy", latScaleMap(launchPoint[1])).attr("r", 8.4)
    .attr("fill", "#27ae60").attr("stroke", "#000").attr("stroke-width", 1.3)
const star = d3.symbol().type(d3.symbolStar).size(165)
mapAxes.plot.append("path").attr("d", star())
    .attr("transform", `translate(${lonScale(lastFix[0])}, ${latScaleMap(lastFix[1])})`)
    .attr("fill", "#1f77b4").attr("stroke", "#000").attr("stroke-width", 1.3)
drawFrame(mapAxes.outer, mapBox)
drawBottomAxis(mapAxes.outer, mapBox, lonScale, lonTicks, d => String(d).replace("-", "\u2212"))
drawLeftAxis(mapAxes.outer, mapBox, latScaleMap, latTicks)
addTitle(mapBox, "Flight Track")
addXLabel(mapBox, 380, "Longitude (deg)")
addYLabel(35, mapBox, "Latitude (deg)")
legendBox(90, 283.3, 79, 50)
svg.append("circle").attr("cx", 104.3).attr("cy", 292.3).attr("r", 2.3).attr("fill", RED)
svg.append("circle").attr("cx", 104.3).attr("cy", 308.3).attr("r", 8.4)
    .attr("fill", "#27ae60").attr("stroke", "#000").attr("stroke-width", 1.3)
svg.append("path").attr("d", star()).attr("transform", "translate(104.3, 323.3)")
    .attr("fill", "#1f77b4").attr("stroke", "#000").attr("stroke-width", 1.3)
legendText(124.3, 292.3, "Track")
legendText(125, 308.3, "Launch")
legendText(124.3, 323.3, "Last fix")

// ---- summary block ----
svg.append("g").selectAll("text").data(summaryLines).join("text")
    .attr("x", d => d[4]).attr("y", d => d[1]).attr("text-anchor", "middle")
    .attr("font-size", d => d[2]).style("fill", d => d[3])
    .attr("xml:space", "preserve").style("white-space", "pre").text(d => d[0])

// ---- wind speed ----
const windBox = { left: 83.5, right: 788.5, top: 420.5, bottom: 727 }
const timeDomain = [dayDate(-0.4), dayDate(51.95)]
const xWind = d3.scaleUtc().domain(timeDomain).range([windBox.left, windBox.right])
const yWind = d3.scaleLinear().domain([0, 94.96]).range([windBox.bottom, windBox.top])
const windAxes = makeAxes("wind", windBox)
const tickDates = dateTicks.map(parseDay)
drawGrid(windAxes.plot, windBox, xWind, yWind, tickDates, windTicks)
const bandRows = bandDays.map((d, i) => [d, bandLower[i], bandUpper[i]])
windAxes.plot.append("path")
    .attr("d", d3.area().x(d => xWind(dayDate(d[0]))).y0(d => yWind(d[1])).y1(d => yWind(d[2]))(bandRows))
    .attr("fill", SLATE).attr("stroke", SLATE).attr("stroke-width", 2).attr("stroke-linejoin", "round").attr("opacity", 0.35)
windAxes.plot.append("g").selectAll("circle").data(windPoints).join("circle")
    .attr("cx", d => xWind(dayDate(d[0]))).attr("cy", d => yWind(d[1])).attr("r", 2.2).attr("fill", NAVY)
windAxes.plot.append("path")
    .attr("d", d3.line().x((d, i) => xWind(dayDate(meanDays[i]))).y(d => yWind(d))(meanWind))
    .attr("fill", "none").attr("stroke", RED).attr("stroke-width", 1.7)
drawFrame(windAxes.outer, windBox)
drawDateAxis(windAxes.outer, windBox, xWind, tickDates)
drawLeftAxis(windAxes.outer, windBox, yWind, windTicks)
addTitle(windBox, "Wind Speed vs. Time")
addInverseUnit(addYLabel(42, windBox, ""), "Wind speed")
legendBox(355.3, 425.3, 162, 50)
svg.append("rect").attr("x", 359).attr("y", 430.3).attr("width", 24).attr("height", 9)
    .attr("fill", SLATE).attr("fill-opacity", 0.35)
svg.append("circle").attr("cx", 371).attr("cy", 450.3).attr("r", 2.2).attr("fill", NAVY)
svg.append("line").attr("x1", 359).attr("x2", 383).attr("y1", 465).attr("y2", 465)
    .attr("stroke", RED).attr("stroke-width", 1.7)
legendText(390, 435.3, "\u00b11\u03c3 propagated error")
legendText(390, 450.3, "Wind speed")
legendText(390, 466, "Daily mean")

// ---- latitude ----
const latBox = { left: 862.6, right: 1567, top: 420.5, bottom: 727 }
const xLat = d3.scaleUtc().domain([dayDate(0.5), dayDate(51.94)]).range([latBox.left, latBox.right])
const yLat = d3.scaleLinear().domain([-90, 90]).range([latBox.bottom, latBox.top])
const latAxes = makeAxes("lat", latBox)
const latDateTicks = tickDates.slice(1)
drawGrid(latAxes.plot, latBox, xLat, yLat, latDateTicks, latTicks)
latAxes.plot.append("g").selectAll("circle").data(latPoints).join("circle")
    .attr("cx", d => xLat(dayDate(d[0]))).attr("cy", d => yLat(d[1])).attr("r", 2.5).attr("fill", "#000")
drawFrame(latAxes.outer, latBox)
drawDateAxis(latAxes.outer, latBox, xLat, latDateTicks)
drawLeftAxis(latAxes.outer, latBox, yLat, latTicks)
addTitle(latBox, "Latitude vs. Time")
addYLabel(814, latBox, "Latitude (deg)")

// ---- altitude ----
const altBox = { left: 83.5, right: 788.5, top: 808.5, bottom: 1116.5 }
const xAlt = d3.scaleUtc().domain(timeDomain).range([altBox.left, altBox.right])
const yAlt = d3.scaleLinear().domain([12596, 14283]).range([altBox.bottom, altBox.top])
const altAxes = makeAxes("alt", altBox)
drawGrid(altAxes.plot, altBox, xAlt, yAlt, tickDates, altTicks)
altAxes.plot.append("g").selectAll("circle").data(altPoints).join("circle")
    .attr("cx", d => xAlt(dayDate(d[0]))).attr("cy", d => yAlt(d[1])).attr("r", 2.2).attr("fill", SLATE)
altAxes.plot.append("path")
    .attr("d", d3.line().x((d, i) => xAlt(dayDate(meanDays[i]))).y(d => yAlt(d))(meanAlt))
    .attr("fill", "none").attr("stroke", RED).attr("stroke-width", 1.8)
drawFrame(altAxes.outer, altBox)
drawDateAxis(altAxes.outer, altBox, xAlt, tickDates)
drawLeftAxis(altAxes.outer, altBox, yAlt, altTicks)
addTitle(altBox, "Balloon Altitude vs. Time")
addXLabel(altBox, 1177, "UTC date")
addYLabel(21, altBox, "Altitude (m AMSL)")

// ---- histogram ----
const histBox = { left: 862.6, right: 1567, top: 808.5, bottom: 1116.5 }
const xHist = d3.scaleLinear().domain([-100, 100]).range([histBox.left, histBox.right])
const yHist = d3.scaleLinear().domain([0, 112.3]).range([histBox.bottom, histBox.top])
const histAxes = makeAxes("hist", histBox)
drawGrid(histAxes.plot, histBox, xHist, yHist, histXTicks, histYTicks)
const BIN = binStarts[1] - binStarts[0]
function drawBars(counts, color) {
    histAxes.plot.append("g").selectAll("rect")
        .data(binStarts.map((b, i) => [b, counts[i]]).filter(d => d[1] > 0)).join("rect")
        .attr("x", d => xHist(d[0])).attr("width", d => xHist(d[0] + BIN) - xHist(d[0]))
        .attr("y", d => yHist(d[1])).attr("height", d => yHist(0) - yHist(d[1]))
        .attr("fill", color).attr("fill-opacity", 0.65)
        .attr("stroke", "#000").attr("stroke-opacity", 0.65).attr("stroke-width", 1.1)
}
drawBars(uCounts, "#1f77b4")
drawBars(vCounts, "#ff7f0e")
drawFrame(histAxes.outer, histBox)
drawBottomAxis(histAxes.outer, histBox, xHist, histXTicks, d => String(d).replace("-", "\u2212"))
drawLeftAxis(histAxes.outer, histBox, yHist, histYTicks)
addTitle(histBox, "U and V Wind Components")
addInverseUnit(addXLabel(histBox, 1159, ""), "Wind speed")
addYLabel(818.5, histBox, "Frequency")
legendBox(1442.4, 814, 116, 34.5)
svg.append("rect").attr("x", 1447).attr("y", 819.3).attr("width", 22.5).attr("height", 7.8)
    .attr("fill", "#1f77b4").attr("fill-opacity", 0.65).attr("stroke", "#000").attr("stroke-opacity", 0.65)
svg.append("rect").attr("x", 1447).attr("y", 834.5).attr("width", 22.5).attr("height", 7.8)
    .attr("fill", "#ff7f0e").attr("fill-opacity", 0.65).attr("stroke", "#000").attr("stroke-opacity", 0.65)
legendText(1477, 824, "U (zonal)")
legendText(1477, 839.5, "V (meridional)")
</script>
</body>
</html>
